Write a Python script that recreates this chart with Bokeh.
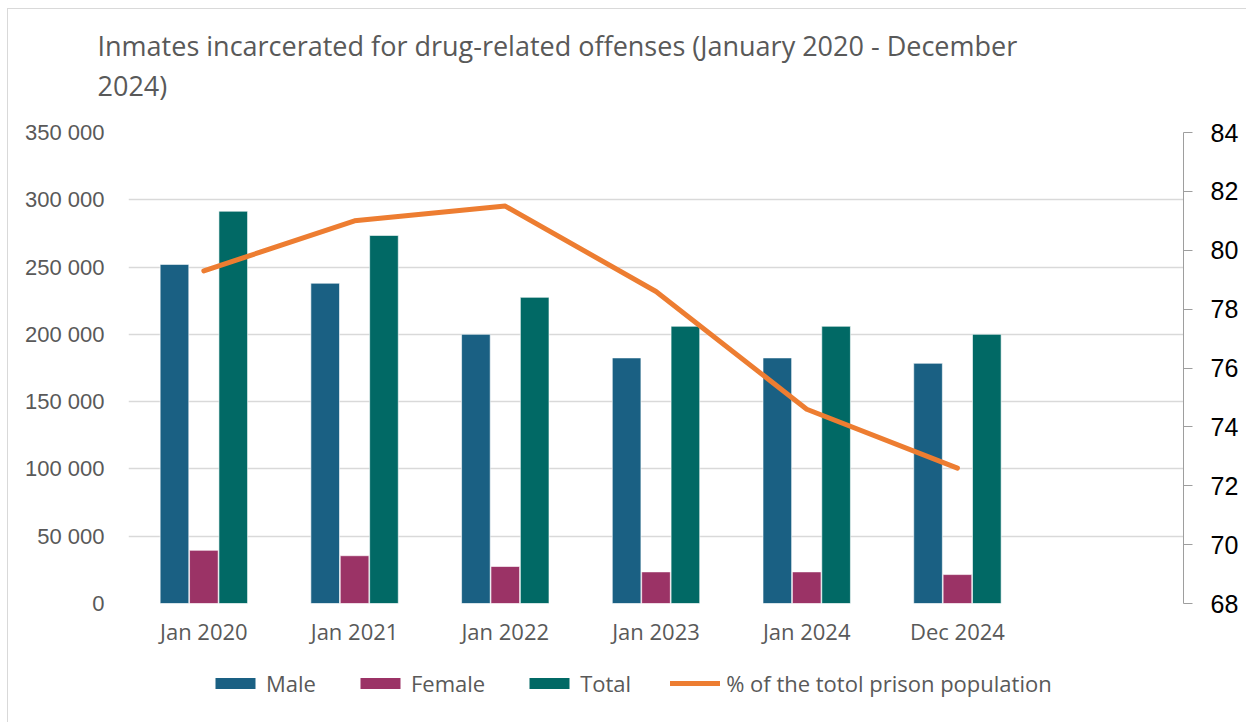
from bokeh.plotting import figure
from bokeh.layouts import column
from bokeh.models import (FactorRange, Range1d, LinearAxis, SingleIntervalTicker,
                          CustomJSTickFormatter, Legend, LegendItem, ColumnDataSource, Title)
from bokeh.transform import dodge
from bokeh.embed import file_html
from bokeh.resources import INLINE

categories = ["Jan 2020", "Jan 2021", "Jan 2022", "Jan 2023", "Jan 2024", "Dec 2024"]
male = [252000, 238000, 200000, 182500, 182500, 178500]
female = [39500, 35500, 27500, 23500, 23500, 21500]
total = [291500, 273500, 227500, 206000, 206000, 200000]
pct_of_total = [79.3, 81.0, 81.5, 78.6, 74.6, 72.6]
series_names = ["Male", "Female", "Total", "% of the totol prison population"]
title_lines = ["Inmates incarcerated for drug-related offenses (January 2020 - December", "2024)"]

src = ColumnDataSource(dict(cat=categories, male=male, female=female, total=total, pct=pct_of_total))
factors = categories + [" "]

TXT = "#595959"
FONT = "Open Sans"
C_M, C_F, C_T, C_L = "#1A6083", "#9B3366", "#016965", "#ED7D31"
W = 1238
BL, BR = 120, 63


def bare(fig):
    fig.outline_line_color = None
    fig.xaxis.visible = False
    fig.yaxis.visible = False
    fig.xgrid.visible = False
    fig.ygrid.visible = False
    return fig


# ---- title panel ----
TH = 95
pt = bare(figure(width=W, height=TH, x_range=Range1d(0, 1), y_range=Range1d(0, 1),
                 output_backend="svg", toolbar_location=None, title_location=None,
                 min_border_left=BL, min_border_right=BR, min_border_top=0, min_border_bottom=0))
for line in title_lines:
    pt.add_layout(Title(text=line, text_font=FONT, text_font_size="27px", text_font_style="normal",
                        text_color=TXT, align="left", offset=-31, standoff=1), "below")

# ---- main chart ----
p = figure(width=W, height=551, x_range=FactorRange(*factors, range_padding=0),
           y_range=Range1d(0, 350000), output_backend="svg", toolbar_location=None,
           title_location=None, min_border_left=BL, min_border_right=BR,
           min_border_top=28, min_border_bottom=52)
p.outline_line_color = None
p.extra_y_ranges = {"pct": Range1d(68, 84)}

w = 0.19
p.vbar(x=dodge("cat", -0.195, range=p.x_range), top="male", width=w, source=src,
       fill_color=C_M, line_color="white", line_width=1, line_alpha=0.6)
p.vbar(x=dodge("cat", 0.0, range=p.x_range), top="female", width=w, source=src,
       fill_color=C_F, line_color="white", line_width=1, line_alpha=0.6)
p.vbar(x=dodge("cat", 0.195, range=p.x_range), top="total", width=w, source=src,
       fill_color=C_T, line_color="white", line_width=1, line_alpha=0.6)
p.line(x="cat", y="pct", source=src, y_range_name="pct", line_color=C_L,
       line_width=5, line_cap="round", line_join="round")

ya = p.yaxis[0]
ya.ticker = SingleIntervalTicker(interval=50000, num_minor_ticks=0)
ya.formatter = CustomJSTickFormatter(code=r"return tick.toFixed(0).replace(/\B(?=(\d{3})+(?!\d))/g, ' ');")
ya.axis_line_color = None
ya.major_tick_line_color = None
ya.minor_tick_line_color = None
ya.major_label_text_font = "Liberation Sans"
ya.major_label_text_font_size = "22px"
ya.major_label_text_color = TXT
ya.major_label_standoff = 18

ra = LinearAxis(y_range_name="pct", ticker=SingleIntervalTicker(interval=2, num_minor_ticks=0))
ra.axis_line_color = "#9e9e9e"
ra.major_tick_line_color = "#9e9e9e"
ra.major_tick_out = 9
ra.major_tick_in = 0
ra.minor_tick_line_color = None
ra.major_label_text_font = "Liberation Sans"
ra.major_label_text_font_size = "25px"
ra.major_label_text_color = "black"
ra.major_label_standoff = 18
p.add_layout(ra, "right")

xa = p.xaxis[0]
xa.axis_line_color = None
xa.major_tick_line_color = None
xa.minor_tick_line_color = None
xa.major_label_text_font = FONT
xa.major_label_text_font_size = "22px"
xa.major_label_text_color = TXT
xa.major_label_standoff = 6

p.xgrid.grid_line_color = None
p.ygrid.grid_line_color = "#d9d9d9"
p.ygrid.grid_line_width = 1.5

# ---- legend panel ----
LH = 67
pl = bare(figure(width=W, height=LH, x_range=Range1d(0, 1), y_range=Range1d(0, 1),
                 output_backend="svg", toolbar_location=None, title_location=None,
                 min_border_left=BL, min_border_right=BR, min_border_top=0, min_border_bottom=0))
lm = pl.vbar(x=[-5], top=[-5], width=0.1, fill_color=C_M, line_color=None)
lf = pl.vbar(x=[-5], top=[-5], width=0.1, fill_color=C_F, line_color=None)
lt = pl.vbar(x=[-5], top=[-5], width=0.1, fill_color=C_T, line_color=None)
ll = pl.line(x=[-5, -4], y=[-5, -5], line_color=C_L, line_width=5, line_cap="round")
legend = Legend(items=[LegendItem(label=series_names[0], renderers=[lm]),
                       LegendItem(label=series_names[1], renderers=[lf]),
                       LegendItem(label=series_names[2], renderers=[lt]),
                       LegendItem(label=series_names[3], renderers=[ll])],
                orientation="horizontal", location=(82, 24), glyph_width=50, glyph_height=14,
                label_text_font=FONT, label_text_font_size="22px", label_text_color=TXT,
                spacing=39, label_standoff=6, border_line_color=None, padding=4, margin=0,
                background_fill_alpha=0)
pl.add_layout(legend, "center")

layout = column(pt, p, pl, spacing=0,
                styles={"border-left": "1px solid #d9d9d9", "border-top": "1px solid #d9d9d9",
                        "margin-left": "7px", "margin-top": "8px", "background": "white"})

open("out.html", "w").write(file_html(layout, INLINE))
